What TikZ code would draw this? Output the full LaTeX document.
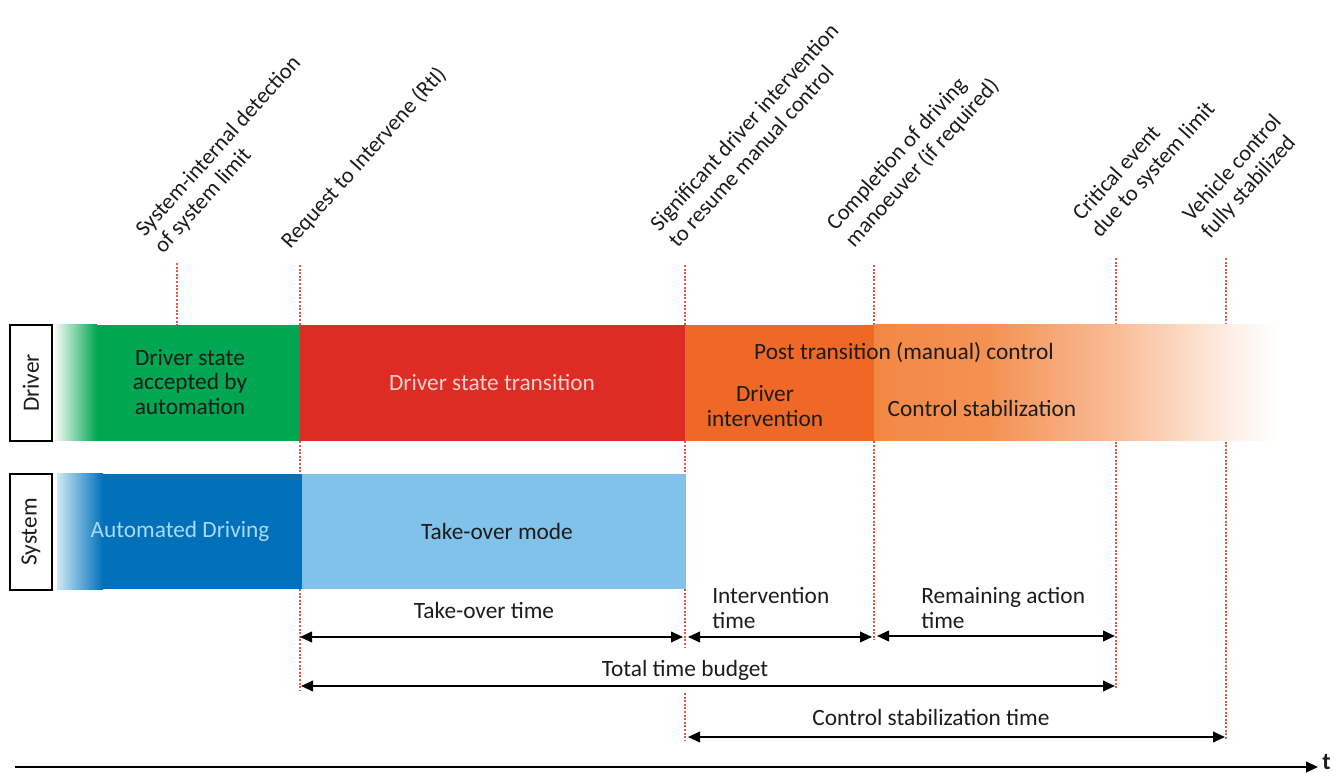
\documentclass[tikz,border=0pt]{standalone}
\usepackage{fontspec}
\setmainfont{Carlito}
\usetikzlibrary{arrows.meta}
\definecolor{dgreen}{RGB}{0,166,81}
\definecolor{dred}{RGB}{222,43,36}
\definecolor{dorange}{RGB}{240,104,38}
\definecolor{lorange}{RGB}{243,136,68}
\definecolor{dblue}{RGB}{0,112,186}
\definecolor{lblue}{RGB}{128,194,234}
\definecolor{paleblue}{RGB}{205,234,247}
\definecolor{dotred}{RGB}{226,88,66}
\definecolor{pinktxt}{RGB}{246,208,202}
\definecolor{bluetxt}{RGB}{172,216,242}
\definecolor{txt}{RGB}{28,28,28}
\begin{document}
\begin{tikzpicture}[x=0.75pt,y=-0.75pt,
  font=\fontsize{17.5}{18.5}\selectfont,
  evline/.style={dotred, line width=1.6pt, dash pattern=on 1.5pt off 1.2pt},
  span/.style={black, line width=1.4pt, {Triangle[length=9pt,width=8pt]}-{Triangle[length=9pt,width=8pt]}},
  evlabel/.style={rotate=48, anchor=south west, align=left, inner sep=0pt, text=txt,
    font=\fontsize{16.8}{18.5}\selectfont},
  rowlabel/.style={draw=black, line width=1.5pt, fill=white, rotate=90,
    minimum width=87pt, minimum height=31.5pt, inner sep=0pt, text=txt},
  bartext/.style={align=center, inner sep=0pt, text=txt},
  dimtext/.style={align=left, inner sep=0pt, text=txt}
]
\useasboundingbox (0,0) rectangle (1343,773);

% event coordinates
\coordinate (e1t) at (177,263); \coordinate (e1b) at (177,325);
\coordinate (e2t) at (300,265); \coordinate (e2b) at (300,690);
\coordinate (e3t) at (685,265); \coordinate (e3m) at (685,648);
\coordinate (e3n) at (685,693); \coordinate (e3b) at (685,740);
\coordinate (e4t) at (874,265); \coordinate (e4b) at (874,640);
\coordinate (e5t) at (1116,258); \coordinate (e5b) at (1116,690);
\coordinate (e6t) at (1226,258); \coordinate (e6b) at (1226,740);

% dotted event lines (behind bars)
\draw[evline] (e1t) -- (e1b);
\draw[evline] (e2t) -- (e2b);
\draw[evline] (e3t) -- (e3m);
\draw[evline] (e3n) -- (e3b);
\draw[evline] (e4t) -- (e4b);
\draw[evline] (e5t) -- (e5b);
\draw[evline] (e6t) -- (e6b);

% Driver row
\shade[left color=dgreen!4, right color=dgreen] (55,325) rectangle (97,441);
\fill[dgreen] (96.5,325) rectangle (300,441);
\fill[dred] (300,325) rectangle (685,441);
\fill[dorange] (685,325) rectangle (874,441);
\shade[left color=lorange, right color=lorange!92!white] (874,325) rectangle (990,441);
\shade[left color=lorange!92!white, right color=lorange!55!white] (989.5,325) rectangle (1120,441);
\shade[left color=lorange!55!white, right color=lorange!12!white] (1119.5,325) rectangle (1235,441);
\shade[left color=lorange!12!white, right color=white] (1234.5,325) rectangle (1278,441);

% System row
\shade[left color=paleblue, right color=dblue] (57,474) rectangle (103,589);
\fill[dblue] (102.5,474) rectangle (302,589);
\fill[lblue] (302,474) rectangle (686,589);

% row labels
\node[rowlabel] (driverlbl) at (31,383) {Driver};
\node[rowlabel] (systemlbl) at (31,532) {System};

% bar texts
\node[bartext] (accepted) at (190,382) {Driver state\\accepted by\\automation};
\node[bartext, text=pinktxt] (transition) at (492,383) {Driver state transition};
\node[bartext] (post) at (904,353) {Post transition (manual) control};
\node[bartext] (intervention) at (765,406) {Driver\\intervention};
\node[bartext] (stabil) at (982,408) {Control stabilization};
\node[bartext, text=bluetxt] (automated) at (180,531) {Automated Driving};
\node[bartext] (tomode) at (497,531) {Take-over mode};

% event labels
\node[evlabel] (l1) at (166,257) {System-internal detection\\of system limit};
\node[evlabel] (l2) at (293,252) {Request to Intervene (RtI)};
\node[evlabel] (l3) at (678,249) {Significant driver intervention\\to resume manual control};
\node[evlabel] (l4) at (857,251) {Completion of driving\\manoeuver (if required)};
\node[evlabel] (l5) at (1103,241) {Critical event\\due to system limit};
\node[evlabel] (l6) at (1213,242) {Vehicle control\\fully stabilized};

% dimension arrows
\coordinate (a1) at (300,637); \coordinate (a2) at (683,637);
\coordinate (b1) at (688,637); \coordinate (b2) at (872,637);
\coordinate (c1) at (877,636); \coordinate (c2) at (1115,636);
\coordinate (d1) at (301,686); \coordinate (d2) at (1115,686);
\coordinate (f1) at (688,737); \coordinate (f2) at (1225,737);
\draw[span] (a1) -- (a2);
\draw[span] (b1) -- (b2);
\draw[span] (c1) -- (c2);
\draw[span] (d1) -- (d2);
\draw[span] (f1) -- (f2);

\node[bartext] (totime) at (484,610) {Take-over time};
\node[dimtext, anchor=west] (inttime) at (712,608) {Intervention\\time};
\node[dimtext, anchor=west] (remtime) at (921,608) {Remaining action\\time};
\node[bartext] (total) at (685,670) {Total time budget};
\node[bartext] (cstime) at (931,717) {Control stabilization time};

% time axis
\coordinate (t0) at (15,767);
\coordinate (t1) at (1318,767);
\draw[black, line width=1.5pt, -{Triangle[length=9pt,width=8pt]}] (t0) -- (t1);
\node[inner sep=0pt, anchor=west, text=txt, font=\fontsize{18}{18}\selectfont\bfseries] (tlbl) at (1322,762) {t};
\end{tikzpicture}
\end{document}
